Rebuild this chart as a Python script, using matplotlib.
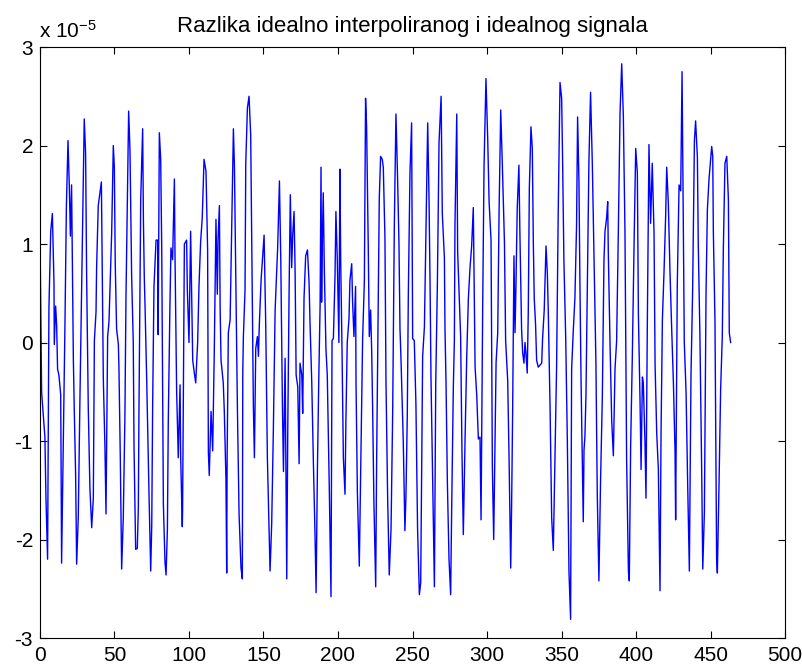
import matplotlib
matplotlib.use("Agg")
import matplotlib.pyplot as plt
from matplotlib.ticker import ScalarFormatter, MultipleLocator

# sample index and difference value (in units of 1e-5)
n = [
    0.0, 1.1, 3.3, 4.0, 5.1, 6.0, 7.2, 8.3, 9.4, 9.6, 10.5, 11.2, 11.8, 12.7, 13.9, 14.5,
    16.8, 17.7, 18.8, 19.7, 20.4, 21.2, 22.4, 23.0, 23.9, 24.6,
    25.7, 26.8, 28.0, 28.6, 29.7, 30.6, 31.3, 32.4, 33.5, 34.7,
    35.8, 36.5, 37.6, 38.0, 39.1, 41.2, 42.5, 43.6, 44.3,
    45.4, 46.3, 48.1, 49.2, 49.9, 50.5, 51.4, 52.6, 53.0, 53.9, 54.8,
    55.9, 57.0, 57.7, 58.6, 59.5, 60.4, 61.5, 62.6, 63.1, 64.2,
    65.3, 66.0, 66.4, 67.6, 68.9, 69.4, 70.0, 70.5, 71.6, 73.2, 74.3,
    75.0, 75.6, 76.5, 77.9, 79.0, 79.3, 80.1, 81.0, 81.7, 82.8, 83.9, 84.6,
    85.5, 86.1, 87.2, 87.9, 89.0, 90.2, 90.6, 91.7, 92.8, 94.0, 94.4, 95.5,
    95.7, 96.9, 98.4, 98.9, 100.0, 101.1, 101.8, 102.5, 103.4, 104.5, 105.8, 106.7, 107.8, 108.9, 110.1,
    111.4, 112.5, 113.0, 113.6, 114.8, 115.9, 117.0, 118.1, 119.0, 119.5, 120.4, 120.9, 121.5, 123.0, 123.7, 124.8, 125.3,
    125.6, 126.4, 127.6, 128.7, 129.8, 130.5, 131.4, 132.5, 133.6, 134.9, 135.8,
    136.1, 136.5, 137.6, 138.1, 139.2, 140.3, 141.4, 142.1, 143.2, 143.9,
    144.8, 145.9, 146.6, 147.2, 148.4, 149.3, 150.4, 151.5, 152.6, 153.7, 154.4,
    155.5, 156.6, 157.8, 158.9, 159.5, 160.7, 161.6, 162.7, 163.4, 164.5, 165.1, 165.6,
    166.3, 167.2, 168.0, 168.9, 169.6, 170.5, 171.2, 171.9, 173.0, 173.9, 174.5, 175.7, 176.3, 177.2,
    178.3, 179.5, 180.6, 181.2, 182.4, 183.5, 184.6, 185.3,
    186.2, 187.1, 188.0, 188.6, 189.0, 189.5, 190.1, 190.8, 191.9, 192.8, 194.2, 195.3,
    196.0, 196.9, 198.0, 198.6, 199.5, 200.6, 201.3, 201.8, 202.7, 203.6, 204.7,
    205.3, 206.2, 207.4, 208.0, 209.2, 209.8, 210.7, 211.8, 212.1, 213.0, 214.3,
    215.4, 216.5, 217.7, 218.5, 219.2, 220.3, 221.0, 221.9, 222.6, 223.2, 224.1, 225.3,
    225.9, 227.1, 227.7, 228.6, 229.7, 230.4, 231.5, 232.2, 233.3, 234.4,
    235.6, 236.7, 237.8, 238.9, 240.0, 240.9, 241.6, 242.3, 243.8, 244.9,
    245.6, 246.5, 247.2, 248.3, 249.4, 250.1, 251.2, 252.3, 253.4, 254.6,
    255.5, 256.2, 256.8, 258.0, 259.1, 260.2, 261.1, 261.8, 262.4, 263.6, 264.7,
    265.6, 266.7, 267.8, 269.2, 270.0, 271.4, 271.8, 272.5, 273.4, 274.5, 275.6,
    276.3, 277.4, 278.1, 278.5, 279.7, 280.3, 281.2, 282.3, 283.2, 284.1,
    285.3, 286.4, 287.5, 288.6, 289.7, 290.8, 292.0, 293.1, 294.2, 295.3, 296.0,
    297.1, 298.0, 299.3, 300.5, 301.4, 302.7, 303.6, 304.5,
    305.4, 306.1, 307.2, 308.1, 309.2, 310.3, 311.7, 312.5, 313.9, 314.8, 315.9,
    316.5, 317.2, 318.1, 318.8, 319.4, 320.3, 321.4, 322.1, 323.2, 323.9, 324.8, 325.5, 326.1, 327.0,
    327.7, 328.4, 329.5, 330.4, 331.1, 331.7, 332.6, 333.3, 334.4, 335.5, 336.7, 337.3, 338.4, 339.6,
    340.5, 341.1, 342.3, 343.4, 344.5,
    345.6, 346.7, 347.8, 349.0, 350.1, 350.7, 351.6, 352.8, 353.9, 355.0, 356.1,
    356.8, 357.9, 359.0, 360.1, 360.8, 361.7, 362.4, 363.1, 363.9, 364.6, 365.1, 365.7, 366.4,
    367.3, 368.4, 369.5, 370.7, 371.8, 373.1, 374.0, 375.1,
    376.2, 377.4, 378.5, 379.2, 380.3, 381.0, 381.4, 382.6, 383.7, 384.8,
    385.9, 387.0, 388.1, 389.3, 390.4, 391.5, 392.6, 393.7, 394.9, 395.5,
    396.4, 397.5, 398.7, 399.8, 400.9, 401.6, 402.7, 403.4, 404.3, 404.9, 406.0, 406.7,
    407.6, 408.7, 409.8, 410.9, 412.1, 412.8, 413.9, 415.0, 416.1,
    416.8, 417.7, 418.8, 419.9, 420.6, 421.7, 422.8, 423.9, 425.1, 426.2, 426.6,
    427.7, 428.9, 430.0, 430.9, 431.8, 432.4, 433.6, 434.7, 435.8,
    436.9, 438.0, 439.2, 440.0, 441.2, 441.8, 442.9, 444.1, 444.8,
    445.9, 446.3, 447.0, 447.9, 449.0, 450.8, 451.5, 451.9, 453.0, 454.1, 454.6,
    455.7, 456.8, 457.9, 458.6, 459.7, 460.9, 462.0, 462.6, 463.5,
]

d = [
    1.11, -0.51, -0.96, -1.58, -2.20, 0.35, 1.13, 1.31, 0.60, -0.02, 0.37, 0.17, -0.27, -0.33, -0.53, -2.24,
    0.23, 1.37, 2.05, 1.57, 1.08, 1.60, -0.18, -0.68, -1.33, -2.25,
    -1.77, -0.58, 0.57, 1.15, 2.27, 1.93, 0.68, -0.66, -1.48, -1.88,
    -1.58, 0.02, 0.31, 0.76, 1.39, 1.63, -0.37, -1.07, -1.74,
    0.06, 0.21, 1.11, 2.00, 1.78, 0.80, 0.14, -0.02, -0.27, -1.17, -2.30,
    -1.78, -0.74, 0.45, 1.42, 2.35, 1.95, 0.68, 0.00, -1.05, -2.10,
    -2.09, -1.68, -0.74, 1.46, 2.17, 1.25, 0.66, 0.37, -0.37, -1.56, -2.32,
    -1.86, -0.64, 0.57, 1.04, 1.04, 0.08, 2.13, 1.86, 0.96, -1.64, -2.23, -2.36,
    -1.90, -0.80, 0.37, 0.96, 0.84, 1.66, 0.90, -0.49, -1.17, -0.43, -1.15, -1.87,
    -1.70, 1.00, 1.04, 0.53, 0.00, 1.13, 0.45, -0.18, -0.29, -0.41, 0.00, 0.57, 1.02, 1.27, 1.86,
    1.74, 0.94, -1.11, -1.35, -0.70, -1.10, -0.06, 1.25, 0.49, 1.04, 1.39, 0.35, -0.18, -0.41, -0.70, -1.39, -2.34,
    -1.15, 0.10, 0.23, 1.21, 2.17, 1.78, 0.68, -0.68, -1.74, -2.29, -2.40,
    -0.29, 0.06, 0.53, 1.82, 2.38, 2.50, 2.11, 1.00, -0.64, -1.17,
    -0.06, 0.06, -0.14, 0.18, 0.64, 0.84, 1.09, 0.18, -1.17, -1.86, -2.32,
    -1.84, -0.90, 0.33, 0.74, 0.96, 1.64, 0.84, -0.64, -1.31, -0.16, -1.31, -2.40,
    -0.86, 0.55, 1.50, 0.76, 1.09, 1.33, 0.74, -0.33, -0.45, -1.23, -0.21, -0.33, -0.72, 0.45,
    0.88, 0.94, 0.60, 0.21, -0.41, -1.23, -1.97, -2.54,
    -1.27, -0.37, 0.39, 1.78, 0.41, 1.04, 1.52, 0.76, -0.06, -0.33, -1.52, -2.58,
    0.02, 0.04, 0.68, 1.33, 0.86, 0.00, 1.76, 0.84, -0.08, -1.17, -1.54,
    -0.80, 0.00, 0.25, 0.63, 0.80, 0.41, 0.06, 0.57, -0.41, -1.52, -2.27,
    -1.13, 0.02, 0.63, 2.48, 2.19, 0.98, 0.06, 0.33, -0.08, -0.63, -1.62, -2.48,
    -1.25, 0.53, 1.46, 1.89, 1.86, 1.78, 1.07, -0.39, -1.56, -2.36,
    -1.89, -0.70, 1.19, 2.32, 1.66, 1.02, 0.14, -0.18, -1.00, -1.91,
    -1.56, -0.74, 0.49, 1.72, 2.23, 0.04, 0.02, -0.63, -1.89, -2.56,
    -2.44, -1.23, -0.14, 0.16, 1.21, 2.23, 1.45, 0.57, -0.35, -1.46, -2.48,
    -0.41, 0.60, 2.03, 2.50, 1.31, 0.86, 0.14, -0.41, -1.42, -2.20, -2.56,
    -1.68, -0.45, 0.02, 1.19, 2.32, 0.92, 0.53, 0.06, -1.11, -1.95,
    -0.96, -0.14, 0.45, 0.76, 0.98, 1.37, -0.25, -0.53, -0.98, -0.96, -1.80,
    0.37, 1.78, 2.68, 2.05, 1.43, 1.04, -1.27, -2.00,
    -1.00, -0.20, 0.10, 1.33, 2.36, 1.80, 1.02, 0.02, -0.39, -1.17, -2.29,
    -1.68, -0.70, 0.88, 0.10, 0.55, 1.37, 1.80, 1.09, 0.14, -0.10, -0.21, 0.00, -0.10, -0.31,
    0.31, 1.56, 2.19, 1.97, 1.00, 0.45, 0.18, -0.18, -0.25, -0.23, -0.21, 0.04, 0.33, 0.98,
    0.70, 0.33, -0.64, -1.78, -2.11,
    -1.15, -0.25, 1.33, 2.64, 2.48, 1.88, 0.84, 0.06, -0.98, -2.32, -2.81,
    -0.27, 0.12, 0.45, 1.19, 2.29, 1.64, 0.55, -0.37, -1.11, -1.82, -1.09, -0.96, -0.55,
    0.51, 1.84, 2.54, 1.80, 0.86, -0.21, -1.54, -2.42,
    -1.41, -0.55, 0.84, 1.13, 1.27, 1.43, 0.92, -0.04, -0.80, -1.15,
    -0.27, 0.02, 1.09, 2.34, 2.83, 2.30, 1.11, -1.19, -2.32, -2.42,
    -1.05, -0.16, 1.00, 1.97, 1.72, 0.29, -0.59, -1.29, -0.35, -0.41, -1.00, -1.58,
    0.20, 2.01, 1.21, 1.82, 1.11, -0.23, -0.92, -1.29, -2.52,
    -0.92, 0.23, 0.72, 1.29, 1.78, 1.41, 0.72, 0.16, -0.41, -1.11, -1.80,
    0.59, 1.60, 1.54, 2.75, 1.09, 0.00, -0.51, -1.46, -2.32,
    -0.33, 0.53, 2.05, 2.25, 1.88, 0.98, 0.06, -1.33, -2.30,
    -1.72, -0.96, 0.51, 1.35, 1.66, 1.99, 1.89, 1.13, 0.21, -2.20, -2.34,
    -1.45, -0.47, 0.06, 0.94, 1.82, 1.89, 1.45, 0.10, 0.00,
]

scale = 1e-5
y = [v * scale for v in d]

plt.rcParams['font.family'] = ['Liberation Sans', 'DejaVu Sans']
plt.rcParams['axes.unicode_minus'] = False
plt.rcParams['mathtext.default'] = 'regular'

fig = plt.figure(figsize=(8.03, 6.68), dpi=100)
ax = fig.add_axes([0.0498, 0.0449, 0.9278, 0.8847])

ax.plot(n, y, color='#0000ff', linewidth=1.0)

ax.set_xlim(0, 500)
ax.set_ylim(-3e-5, 3e-5)
ax.xaxis.set_major_locator(MultipleLocator(50))
ax.yaxis.set_major_locator(MultipleLocator(1e-5))

fmt = ScalarFormatter()
fmt.set_powerlimits((0, 0))
ax.yaxis.set_major_formatter(fmt)
ax.yaxis.get_offset_text().set_visible(False)

ax.tick_params(direction='in', top=True, right=True, length=5, width=0.8, labelsize=15)
ax.tick_params(axis='x', pad=6)
ax.tick_params(axis='y', pad=5)
for sp in ax.spines.values():
    sp.set_linewidth(0.8)

ax.set_title("Razlika idealno interpoliranog i idealnog signala", fontsize=16, pad=11)
fig.text(39 / 803, 1 - 38 / 668, "x 10$^{-5}$", fontsize=15, ha='left', va='baseline')

fig.savefig("out.png", dpi=100)
